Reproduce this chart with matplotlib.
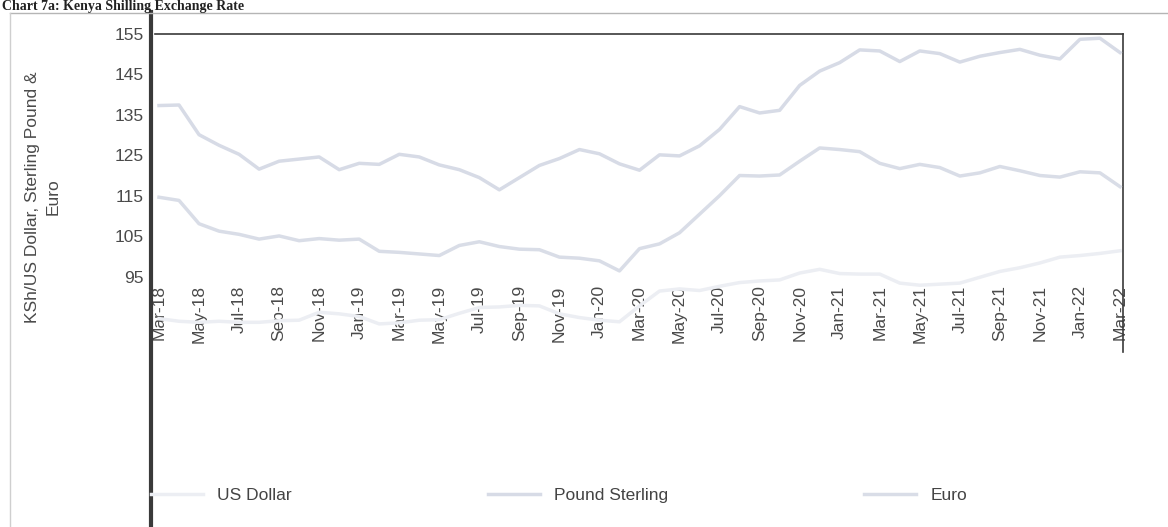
import numpy as np
import matplotlib.pyplot as plt
from matplotlib.lines import Line2D

plt.rcParams['font.family'] = ['Liberation Sans', 'DejaVu Sans']

# === monthly KSh exchange rates, Mar-18 .. Mar-22 ===
usd = [101.3, 100.8, 100.6, 100.8, 100.6, 100.6, 100.9, 101.0, 102.5, 102.2,
       101.7, 100.3, 100.5, 101.0, 101.1, 102.3, 103.4, 103.5, 103.8, 103.7, 102.2, 101.5,
       101.0, 100.7, 103.7, 106.5, 106.9, 106.6, 107.4, 108.1, 108.4, 108.6, 109.9, 110.6,
       109.8, 109.7, 109.7, 108.0, 107.6, 107.8, 108.0, 109.1, 110.2, 110.9, 111.8, 112.9,
       113.2, 113.6, 114.1]
gbp = [141.5, 141.6, 136.0, 134.0, 132.3, 129.5, 131.0, 131.4, 131.8, 129.4,
       130.6, 130.4, 132.3, 131.8, 130.3, 129.4, 127.9, 125.6, 127.9, 130.2, 131.5, 133.2,
       132.4, 130.5, 129.3, 132.2, 132.0, 133.9, 137.0, 141.3, 140.1, 140.6, 145.3, 148.0,
       149.6, 152.0, 151.8, 149.8, 151.8, 151.3, 149.7, 150.8, 151.5, 152.1, 151.0, 150.3,
       154.0, 154.2, 151.5]
eur = [124.2, 123.6, 119.2, 117.8, 117.2, 116.3, 116.9, 116.0, 116.4, 116.1,
       116.3, 114.0, 113.8, 113.5, 113.2, 115.1, 115.8, 114.9, 114.4, 114.3, 112.9, 112.7,
       112.2, 110.3, 114.5, 115.4, 117.5, 121.0, 124.5, 128.3, 128.2, 128.4, 131.0, 133.5,
       133.2, 132.8, 130.6, 129.6, 130.4, 129.8, 128.2, 128.8, 130.0, 129.2, 128.3, 128.0,
       129.0, 128.8, 126.2]

tick_labels = ["Mar-18", "May-18", "Jul-18", "Sep-18", "Nov-18", "Jan-19", "Mar-19",
               "May-19", "Jul-19", "Sep-19", "Nov-19", "Jan-20", "Mar-20", "May-20",
               "Jul-20", "Sep-20", "Nov-20", "Jan-21", "Mar-21", "May-21", "Jul-21",
               "Sep-21", "Nov-21", "Jan-22", "Mar-22"]
y_ticks = [95, 105, 115, 125, 135, 145, 155]

W, H = 1168, 527
fig = plt.figure(figsize=(W / 100, H / 100), dpi=100)


def fx(px):
    return px / W


def fy(py):
    return 1 - py / H


# plot area (lines)
ax = fig.add_axes([fx(155), fy(352), fx(968), (352 - 34) / H])
# separate axes that only carries the (scanned, offset) tick labels
ax_lab = fig.add_axes([fx(155), fy(277), fx(968), (277 - 34) / H])
ax_lab.set_zorder(-1)

# faded scan: lines are very pale
x = np.arange(len(usd))
l_usd, = ax.plot(x, usd, color="#eceef3", lw=2.5, zorder=3)
l_gbp, = ax.plot(x, gbp, color="#d7dbe6", lw=2.5, zorder=3)
l_eur, = ax.plot(x, eur, color="#d9dde7", lw=2.5, zorder=3)

for a in (ax, ax_lab):
    a.set_xlim(-0.2, 48.15)
    a.set_ylim(95, 155)
    a.patch.set_visible(False)

ax.set_xticks([])
ax.set_yticks([])
for s in ("left", "bottom"):
    ax.spines[s].set_visible(False)
for s in ("top", "right"):
    ax.spines[s].set_color("#3a3a3a")
    ax.spines[s].set_linewidth(1.2)

ax_lab.set_yticks(y_ticks)
ax_lab.set_xticks(x[::2])
ax_lab.set_xticklabels(tick_labels, rotation=90)
ax_lab.tick_params(length=0, labelsize=12.5, labelcolor="#4a4a4a")
ax_lab.tick_params(axis="y", pad=8)
ax_lab.tick_params(axis="x", pad=6)
for s in ax_lab.spines.values():
    s.set_visible(False)

fig.text(fx(43), fy(197), "KSh/US Dollar, Sterling Pound &\nEuro", rotation=90,
         ha="center", va="center", fontsize=12.5, color="#4a4a4a",
         multialignment="center", linespacing=1.5)

# scan edges and the chart title above the frame
fig.add_artist(Line2D([fx(151), fx(151)], [fy(12), 0], color="#3a3a3a", lw=3,
                      transform=fig.transFigure))
fig.add_artist(Line2D([fx(10), 1], [fy(13), fy(13)], color="#b5b5b5", lw=1,
                      transform=fig.transFigure))
fig.add_artist(Line2D([fx(10), fx(10)], [fy(13), 0], color="#cfcfcf", lw=1,
                      transform=fig.transFigure))
fig.text(fx(2), fy(10), "Chart 7a: Kenya Shilling Exchange Rate", fontsize=10,
         fontweight="bold", family="Liberation Serif", va="baseline", color="#222222")

fig.legend([l_usd, l_gbp, l_eur], ["US Dollar", "Pound Sterling", "Euro"],
           loc="center", bbox_to_anchor=(fx(559), fy(495)), ncol=3, frameon=False,
           fontsize=12.5, handlelength=3, columnspacing=11.3, labelcolor="#444444")

fig.savefig("out.png", dpi=100)
